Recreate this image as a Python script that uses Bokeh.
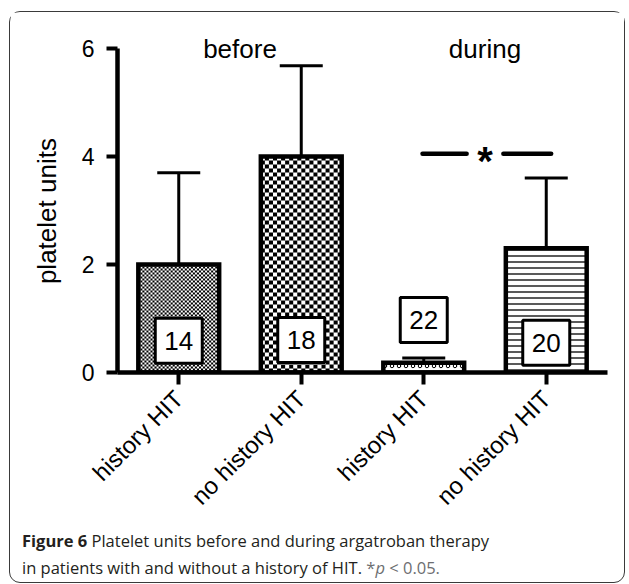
import math
import html as _html
import numpy as np
from bokeh.plotting import figure
from bokeh.models import (Range1d, FixedTicker, Label, Whisker, TeeHead,
                          ColumnDataSource, Div)
from bokeh.layouts import column
from bokeh.core.properties import value
from bokeh.embed import file_html
from bokeh.resources import INLINE

# ---------------- data ----------------
groups = ["history HIT", "no history HIT", "history HIT", "no history HIT"]
periods = ["before", "during"]
mean_units = [2.0, 4.0, 0.18, 2.3]
upper_sd = [3.7, 5.68, 0.27, 3.6]
n_patients = ["14", "18", "22", "20"]
y_ticks = [0, 2, 4, 6]
y_title = "platelet units"
sig_level = 4.05
sig_mark = "*"
caption_bold = "Figure 6"
caption_line1 = "Platelet units before and during argatroban therapy"
caption_line2 = "in patients with and without a history of HIT."
caption_p = ["*", "p", "< 0.05."]

# ---------------- styles / layout ----------------
# fill style per bar: ("checker", cell px) or (hatch pattern, hatch scale, hatch weight)
bar_fill = [("checker", 2), ("checker", 4), ("ring", 7, 1), ("horizontal_line", 6, 1.3)]
box_y = [0.59, 0.60, 0.97, 0.55]
BAR_W = 0.66

W, H = 614, 516
L, R, T, B = 107, 17, 4, 156
PX_PER_UNIT = 54.0
x_lo, x_hi = 0.5, 4.5
y_hi = (H - T - B) / PX_PER_UNIT
PX_X = (W - L - R) / (x_hi - x_lo)

pos = list(range(1, len(groups) + 1))

p = figure(width=W, height=H, x_range=Range1d(x_lo, x_hi), y_range=Range1d(0, y_hi),
           output_backend="svg", toolbar_location=None, margin=0,
           min_border_left=L, min_border_right=R, min_border_top=T, min_border_bottom=B)
p.xgrid.visible = False
p.ygrid.visible = False
p.outline_line_color = None
p.background_fill_color = "white"
p.border_fill_color = "white"
p.stylesheets = ["image { image-rendering: pixelated; }"]

CHART_FONT = "Liberation Sans"

yax = p.yaxis[0]
yax.ticker = FixedTicker(ticks=y_ticks)
yax.bounds = (0, 6)
yax.axis_line_width = 4.5
yax.axis_line_color = "black"
yax.major_tick_line_width = 4
yax.major_tick_line_color = "black"
yax.major_tick_out = 11
yax.major_tick_in = 0
yax.minor_tick_line_color = None
yax.major_label_text_font = CHART_FONT
yax.major_label_text_font_size = "23px"
yax.major_label_text_color = "black"
yax.major_label_standoff = 12
# trailing en/no-break spaces move the centred title down to the 0-6 span
yax.axis_label = y_title + "\u2002\u2002\u00a0"
yax.axis_label_text_font = CHART_FONT
yax.axis_label_text_font_size = "26px"
yax.axis_label_text_font_style = "normal"
yax.axis_label_text_color = "black"
yax.axis_label_standoff = 17

xax = p.xaxis[0]
xax.ticker = FixedTicker(ticks=pos)
xax.major_label_overrides = {i: g for i, g in zip(pos, groups)}
xax.major_label_orientation = math.pi / 4
xax.axis_line_width = 4.5
xax.axis_line_color = "black"
xax.major_tick_line_width = 4
xax.major_tick_line_color = "black"
xax.major_tick_out = 12
xax.major_tick_in = 0
xax.minor_tick_line_color = None
xax.major_label_text_font = CHART_FONT
xax.major_label_text_font_size = "24px"
xax.major_label_text_color = "black"
xax.major_label_standoff = 10

src = ColumnDataSource(dict(x=pos, top=mean_units, upper=upper_sd, n=n_patients, by=box_y))

# bar fills
for i in range(len(groups)):
    style = bar_fill[i]
    if style[0] == "checker":
        cell = style[1]
        nx = int(round(BAR_W * PX_X))
        ny = max(1, int(round(mean_units[i] * PX_PER_UNIT)))
        yy, xx = np.mgrid[0:ny, 0:nx]
        tex = ((xx // cell + yy // cell) % 2).astype(float)
        p.image(image=[tex], x=pos[i] - BAR_W / 2, y=0, dw=BAR_W, dh=mean_units[i],
                palette=["#000000", "#ffffff"])
        p.vbar(x=[pos[i]], top=[mean_units[i]], width=BAR_W, fill_alpha=0,
               line_color="black", line_width=4.5, line_join="miter")
    else:
        p.vbar(x=[pos[i]], top=[mean_units[i]], width=BAR_W, fill_color="white",
               line_color="black", line_width=4.5, line_join="miter",
               hatch_pattern=style[0], hatch_scale=style[1], hatch_weight=style[2],
               hatch_color="black")

p.add_layout(Whisker(source=src, base="x", lower="top", upper="upper", dimension="height",
                     line_width=3, line_color="black",
                     upper_head=TeeHead(size=43, line_width=3, line_color="black"),
                     lower_head=None))

p.rect(x="x", y="by", width=47, height=45, width_units="screen", height_units="screen",
       source=src, fill_color="white", line_color="black", line_width=3)
p.text(x="x", y="by", text="n", source=src, text_align="center", text_baseline="middle",
       text_font=value(CHART_FONT), text_font_size="26px", text_color="black")

# period headers
for k, name in enumerate(periods):
    cx = (pos[2 * k] + pos[2 * k + 1]) / 2
    p.add_layout(Label(x=cx, y=6.0, text=name, text_align="center",
                       text_baseline="alphabetic", text_font=CHART_FONT,
                       text_font_size="26px", text_color="black"))

# significance bracket
a, b = pos[2], pos[3]
mid = (a + b) / 2
p.segment(x0=[a - 0.01, mid + 0.15], x1=[mid - 0.15, b + 0.04],
          y0=[sig_level, sig_level], y1=[sig_level, sig_level],
          line_width=4.5, line_color="black", line_cap="round")
p.add_layout(Label(x=mid, y=sig_level, text=sig_mark, text_align="center",
                   text_baseline="middle", text_font=CHART_FONT, text_font_size="40px",
                   text_font_style="bold", y_offset=-7, text_color="black"))

# caption (HTML, below the chart)
cap_html = (
    '<div style="font-family:\'Open Sans\'; font-size:16.5px; line-height:27px; '
    'color:#231f20; padding-left:12px; position:relative; top:-1px; white-space:nowrap;">'
    f'<b>{_html.escape(caption_bold)}</b> {_html.escape(caption_line1)}<br>'
    f'{_html.escape(caption_line2)} '
    f'<span style="color:#6d6e71">{_html.escape(caption_p[0])}<i>{_html.escape(caption_p[1])}</i> '
    f'{_html.escape(caption_p[2])}</span></div>'
)
cap = Div(text=cap_html, width=W, height=54, margin=0)

lay = column(p, cap, margin=(11, 0, 0, 9), spacing=0,
             styles={"border": "1px solid #3a3a3a", "border-radius": "11px",
                     "background-color": "white"})

open("out.html", "w").write(file_html(lay, INLINE))
